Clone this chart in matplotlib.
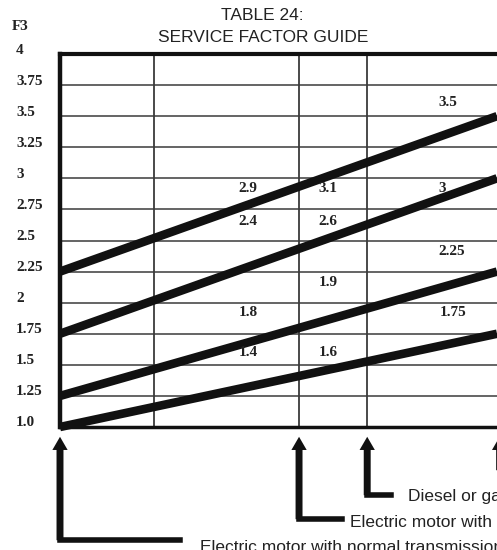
import matplotlib.pyplot as plt
from matplotlib.patches import FancyArrowPatch, ArrowStyle
from matplotlib.transforms import blended_transform_factory, offset_copy

W, H = 497, 550

# service factor lines, value at the left and right edge of the grid
line_start = [2.25, 1.75, 1.25, 1.0]
line_end = [3.5, 3.0, 2.25, 1.75]
x_span = [0.0, 1.0]

# vertical separators between the drive types
col_edges = [0.215, 0.547, 0.703]

y_ticks = [1.0, 1.25, 1.5, 1.75, 2.0, 2.25, 2.5, 2.75, 3.0, 3.25, 3.5, 3.75, 4.0]
y_ticklabels = ["1.0", "1.25", "1.5", "1.75", "2", "2.25", "2.5", "2.75",
                "3", "3.25", "3.5", "3.75", "4"]

# factor values written in the cells
factor_text = ["3.5", "2.9", "3.1", "3", "2.4", "2.6", "2.25",
               "1.9", "1.8", "1.75", "1.4", "1.6"]
factor_x = [0.888, 0.43, 0.613, 0.874, 0.43, 0.613, 0.897,
            0.613, 0.43, 0.899, 0.43, 0.613]
factor_y = [3.61, 2.92, 2.92, 2.92, 2.65, 2.65, 2.41,
            2.16, 1.92, 1.92, 1.60, 1.60]

# drive type pointers below the chart
drive_x = [0.0, 0.547, 0.703, 1.006]
drive_names = ["Electric motor with normal transmission",
               "Electric motor with high starting torque",
               "Diesel or gas engine",
               ""]
corner_px = [540, 519, 495, 470]
leg_end = [0.275, 0.645, 0.758, 1.1]
name_x = [0.32, 0.664, 0.796, 1.1]
name_px = [548, 522, 497, 470]

ink = "#111111"
grid_col = "#3a3a3a"
serif = "Liberation Serif"
sans = "Liberation Sans"

fig = plt.figure(figsize=(W / 100, H / 100), dpi=100)
fig.patch.set_facecolor("white")
ax = fig.add_axes([60 / W, 1 - 427 / H, 1 - 60 / W, (427 - 54) / H])
ax.set_xlim(0, 1)
ax.set_ylim(1.0, 4.0)
ax.set_xticks([])
ax.set_yticks([])

ax.spines["right"].set_visible(False)
ax.spines["top"].set_linewidth(3)
ax.spines["left"].set_linewidth(3.2)
ax.spines["bottom"].set_linewidth(2.5)
for s in ["top", "left", "bottom"]:
    ax.spines[s].set_color(ink)

for y in y_ticks[1:-1]:
    ax.axhline(y, color=grid_col, lw=1.1, zorder=1)
for x in col_edges:
    ax.axvline(x, color=grid_col, lw=1.3, zorder=1)

for a, b in zip(line_start, line_end):
    ax.plot(x_span, [a, b], color=ink, lw=6.2, solid_capstyle="butt",
            clip_on=False, zorder=3)

for t, x, y in zip(factor_text, factor_x, factor_y):
    ax.text(x, y, t, ha="center", va="center", fontsize=11,
            fontweight="bold", family=serif, color="#222222", zorder=4)

# y labels sit left-aligned a little above their grid line
ytrans = offset_copy(ax.get_yaxis_transform(), fig=fig, x=0, y=4, units="dots")
for y, lab in zip(y_ticks, y_ticklabels):
    ax.text((16 - 60) / (W - 60), y, lab, transform=ytrans, ha="left",
            va="center", fontsize=11, fontweight="bold", family=serif,
            color="#222222", clip_on=False)
fig.text(12 / W, 1 - 27 / H, "F3", ha="left", va="center", fontsize=11,
         fontweight="bold", family=serif, color="#222222")

fig.text(262 / W, 1 - 15 / H, "TABLE 24:", ha="center", va="center",
         fontsize=12.5, family=sans, color="#222222")
fig.text(263 / W, 1 - 37.5 / H, "SERVICE FACTOR GUIDE", ha="center",
         va="center", fontsize=12.5, family=sans, color="#222222")

blend = blended_transform_factory(ax.transData, fig.transFigure)
tip = 1 - 434 / H
for x, cp, le, nx, npx, name in zip(drive_x, corner_px, leg_end, name_x,
                                     name_px, drive_names):
    cy = 1 - cp / H
    arr = FancyArrowPatch((x, cy - 3 / H), (x, tip), transform=blend,
                          arrowstyle=ArrowStyle.Simple(head_length=0.95,
                                                       head_width=1.1,
                                                       tail_width=0.5),
                          mutation_scale=10, color=ink, lw=0,
                          clip_on=False)
    fig.add_artist(arr)
    ax.plot([x, le], [cy, cy], transform=blend, color=ink, lw=4,
            solid_capstyle="projecting", clip_on=False)
    if name:
        ax.text(nx, 1 - npx / H, name, transform=blend, ha="left",
                va="center", fontsize=12.5, family=sans, color="#222222",
                clip_on=False)

fig.savefig("out.png", dpi=100)
